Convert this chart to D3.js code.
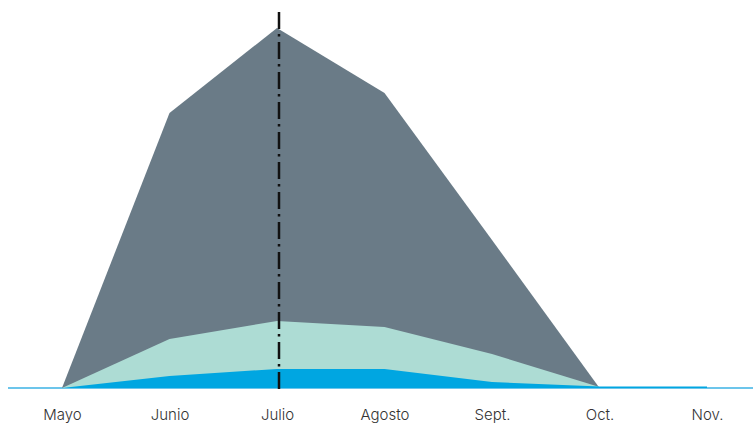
<!DOCTYPE html>
<html lang="es">
<head>
    <meta charset="UTF-8">
    <title>Temporada</title>
    <script src="https://d3js.org/d3.v7.min.js"></script>
    <style>
        body {
            margin: 0;
            background-color: white;
            font-family: Inter, sans-serif;
        }
    </style>
</head>
<body>
<div id="datavis"></div>
<script>
    //data
    var months = ["Mayo", "Junio", "Julio", "Agosto", "Sept.", "Oct.", "Nov."];
    var totalValues = [0, 275, 360, 295, 148, 0, null];
    var greenValues = [0, 49, 67, 61, 34, 1, null];
    var blueValues = [0, 12, 19, 19, 6, 1.5, 1.5];
    var markerMonth = "Julio";

    //dimensions
    var width = 753,
        height = 424;

    var svg = d3.select("#datavis")
      .append("svg")
        .attr("width", width)
        .attr("height", height);

    //scales
    var x = d3.scalePoint()
        .domain(months)
        .range([62, 707]);

    var y = d3.scaleLinear()
        .domain([0, 360])
        .range([388, 28]);

    //helper: build points for one series, skipping empty months
    function series(values) {
        return months.map(function(m, i) { return {month: m, value: values[i]}; })
            .filter(function(d) { return d.value !== null; });
    }

    var area = d3.area()
        .x(function(d) { return x(d.month); })
        .y0(y(0))
        .y1(function(d) { return y(d.value); });

    //baseline
    svg.append("line")
        .attr("x1", 8)
        .attr("x2", width)
        .attr("y1", y(0))
        .attr("y2", y(0))
        .style("stroke", "#3bb2e4")
        .style("stroke-width", 1.5);

    //areas, drawn back to front
    svg.append("path")
        .datum(series(totalValues))
        .attr("d", area)
        .style("fill", "#6a7b87");

    svg.append("path")
        .datum(series(greenValues))
        .attr("d", area)
        .style("fill", "#addcd4");

    svg.append("path")
        .datum(series(blueValues))
        .attr("d", area)
        .style("fill", "#00a6e1");

    //dash-dot marker line
    svg.append("line")
        .attr("x1", x(markerMonth) + 2)
        .attr("x2", x(markerMonth) + 2)
        .attr("y1", 12)
        .attr("y2", 390)
        .style("stroke", "#111")
        .style("stroke-width", 2.5)
        .style("stroke-dasharray", "17,5,2.5,5.5");

    //month labels
    var xAxis = svg.append("g")
        .attr("transform", "translate(0,400)")
        .call(d3.axisBottom(x).tickSize(0).tickPadding(0));
    xAxis.select(".domain").remove();
    xAxis.selectAll("text")
        .attr("dy", "0")
        .attr("y", 20)
        .style("font-family", "Inter, sans-serif")
        .style("font-weight", 300)
        .style("font-size", "15px")
        .style("fill", "#333");
</script>
</body>
</html>
